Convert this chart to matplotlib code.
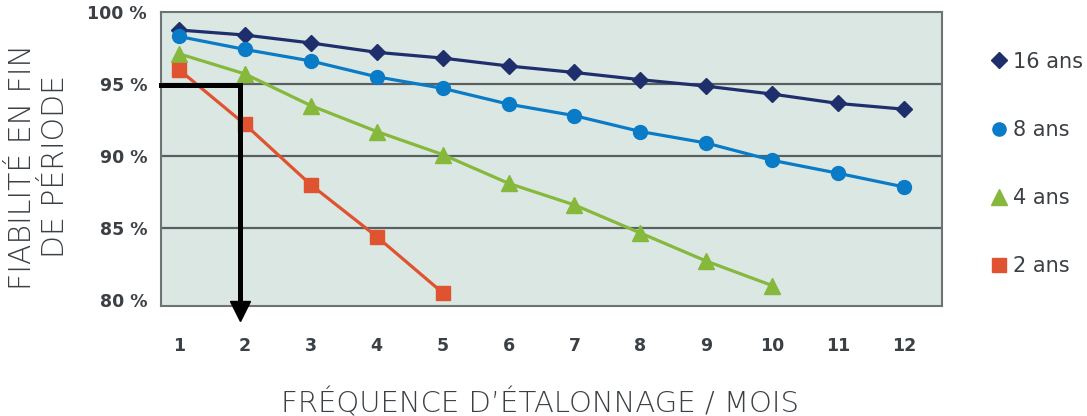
import matplotlib.pyplot as plt
from matplotlib.lines import Line2D

# reliability at end of period (%) vs calibration interval (months)
months = list(range(1, 13))
rel_16 = [98.75, 98.4, 97.85, 97.2, 96.8, 96.25, 95.8, 95.3, 94.85, 94.3, 93.65, 93.25]
rel_8 = [98.3, 97.4, 96.6, 95.5, 94.7, 93.6, 92.8, 91.7, 90.9, 89.7, 88.8, 87.85]
rel_4 = [97.1, 95.7, 93.5, 91.7, 90.1, 88.1, 86.6, 84.65, 82.7, 81.0]
rel_2 = [96.0, 92.2, 88.0, 84.4, 80.5]
labels = ['16 ans', '8 ans', '4 ans', '2 ans']
yticks = [80, 85, 90, 95, 100]

# required reliability and resulting interval
target_rel = 94.9
target_month = 1.93

text_col = '#3b4045'
plt.rcParams['font.family'] = ['DejaVu Sans']

fig = plt.figure(figsize=(10.87, 4.16), dpi=100)
ax = fig.add_axes([161 / 1087, 1 - 306 / 416, 781 / 1087, 294 / 416])
ax.set_facecolor('#dae7e3')

series = [
    (rel_16, 'D', 8.2, '#1f2f6b'),
    (rel_8, 'o', 10, '#0a7bc6'),
    (rel_4, '^', 12, '#86b83c'),
    (rel_2, 's', 10.5, '#e05330'),
]
handles = []
for (vals, mk, ms, col), lab in zip(series, labels):
    ax.plot(months[:len(vals)], vals, color=col, lw=2.3, marker=mk, ms=ms,
            mec=col, mfc=col, zorder=3)
    handles.append(Line2D([], [], ls='none', marker=mk, color=col,
                          ms=ms * 0.95, label=lab))

ax.set_xlim(0.727, 12.577)
ax.set_ylim(79.58, 100)
ax.set_xticks(months)
ax.set_yticks(yticks)
ax.set_yticklabels([f'{v} %' for v in yticks])
for y in yticks[1:-1]:
    ax.axhline(y, color='#5a5f62', lw=1.6, zorder=1)
for s in ax.spines.values():
    s.set_color('#6d7274')
    s.set_linewidth(1.5)
ax.tick_params(length=0)
ax.tick_params(axis='x', pad=22, labelsize=12.5, labelcolor=text_col)
ax.tick_params(axis='y', pad=10, labelsize=12.5, labelcolor=text_col)
for t in ax.get_xticklabels():
    t.set_fontweight('bold')
for t in ax.get_yticklabels():
    t.set_fontweight('semibold')

# arrow reading the interval off at the target reliability
ax.plot([ax.get_xlim()[0], target_month, target_month],
        [target_rel, target_rel, 79.9], color='black', lw=3.6,
        solid_joinstyle='miter', clip_on=False, zorder=4)
ax.plot([target_month], [79.24], marker='v', ms=15, color='black',
        clip_on=False, zorder=4)

fig.legend(handles=handles, loc='upper left',
           bbox_to_anchor=(974 / 1087, 1 - 33 / 416), frameon=False,
           handlelength=0.6, handletextpad=0.35, labelspacing=2.31,
           prop={'size': 15}, labelcolor=text_col)

fig.text(39 / 1087, 1 - 167 / 416, 'FIABILITÉ EN FIN\nDE PÉRIODE',
         rotation=90, ha='center', va='center', multialignment='center',
         fontsize=21.5, fontweight='light', color=text_col, linespacing=1.15)
fig.text(540 / 1087, 1 - 403 / 416, 'FRÉQUENCE D’ÉTALONNAGE / MOIS',
         ha='center', va='center', fontsize=21, fontweight='light',
         color=text_col)

fig.savefig('out.png', dpi=100)
